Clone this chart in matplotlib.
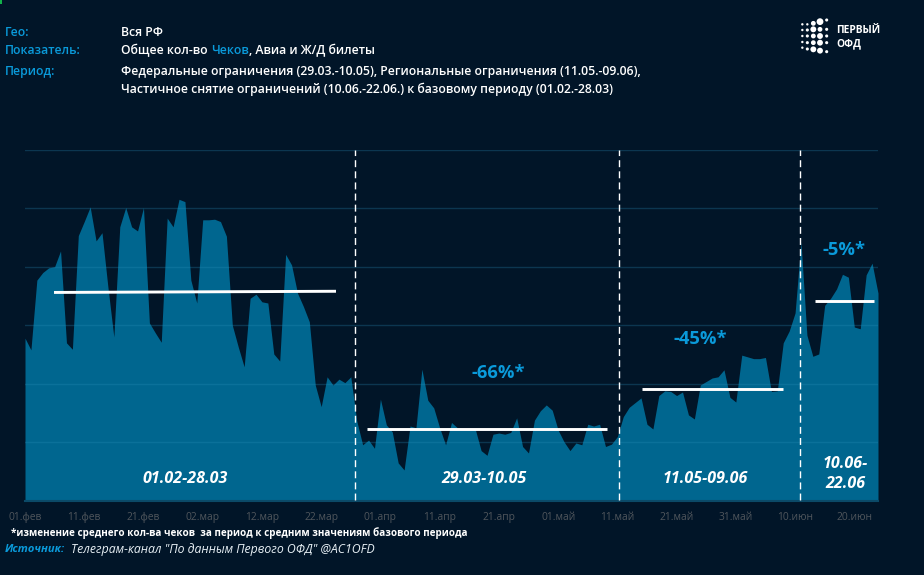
import matplotlib
matplotlib.use("Agg")
import matplotlib.pyplot as plt
import pandas as pd
from matplotlib.patches import Rectangle

W, H = 924, 575
BG = "#011528"
FILL = "#00668f"
BLUE = "#0a9ada"
TICK = "#50565c"
FONT = "Open Sans"

values = [278, 258, 377, 390, 398, 400, 427, 270, 259, 453,
          477, 502, 444, 458, 365, 280, 468, 501, 468, 461,
          501, 304, 287, 271, 483, 468, 515, 511, 377, 338,
          480, 480, 481, 477, 452, 300, 263, 229, 346, 353,
          340, 338, 251, 239, 421, 403, 355, 332, 306, 198,
          161, 212, 198, 208, 202, 212, 137, 96, 104, 90,
          174, 130, 118, 65, 53, 128, 125, 225, 172, 159,
          125, 96, 134, 125, 123, 123, 123, 86, 78, 114,
          116, 114, 117, 142, 93, 82, 138, 154, 164, 155,
          121, 101, 86, 99, 96, 131, 128, 131, 93, 97,
          110, 144, 160, 168, 176, 131, 123, 180, 188, 187,
          180, 186, 147, 140, 198, 204, 210, 212, 224, 177,
          169, 249, 246, 243, 243, 245, 187, 188, 270, 290,
          321, 442, 283, 247, 251, 334, 346, 362, 387, 382,
          297, 294, 386, 406, 355]
start_date = "2020-02-01"
tick_step_days = 10
month_names = {2: "фев", 3: "мар", 4: "апр", 5: "май", 6: "июн"}
grid_values = [100, 200, 300, 400, 500, 600]

period_names = ["01.02-28.03", "29.03-10.05", "11.05-09.06", "10.06-\n22.06"]
period_changes = ["", "-66%*", "-45%*", "-5%*"]
change_levels = [None, 219, 277, 429]
change_days = [None, 79.9, 114, 138.3]
name_days = [27, 77.5, 114.9, 138.5]
name_levels = [38, 38, 38, 46]
mean_start_days = [4.9, 57.7, 104.2, 133.3]
mean_end_days = [52.5, 98.3, 128, 143.4]
mean_start_vals = [356, 123, 192, 341]
mean_end_vals = [358, 123, 192, 341]
boundary_days = [55.72, 100.3, 130.9]

header_labels = ["Гео:", "Показатель:", "Период:"]
header_rows = ["Вся РФ", None,
               "Федеральные ограничения (29.03.-10.05), Региональные ограничения (11.05.-09.06),",
               "Частичное снятие ограничений (10.06.-22.06.) к базовому периоду (01.02.-28.03)"]
indicator_parts = [("Общее кол-во ", "white"), ("Чеков", BLUE), (", Авиа и Ж/Д билеты", "white")]
footnote = "*изменение среднего кол-ва чеков  за период к средним значениям базового периода"
source_label = "Источник:"
source_text = 'Телеграм-канал "По данным Первого ОФД" @AC1OFD'

logo_x = [67, 82, 100, 120, 140] * 5
logo_y = [73, 73, 70, 65, 60,
          90, 90, 88, 88, 88,
          108, 108, 108, 108, 108,
          126, 128, 128, 128, 128,
          143, 147, 148, 152, 155]
logo_s = [3, 3, 12, 24, 5,
          3, 5, 18, 12, 5,
          3, 5, 12, 18, 5,
          3, 5, 12, 18, 5,
          3, 5, 18, 18, 5]

fig = plt.figure(figsize=(W / 100, H / 100), dpi=100, facecolor=BG)


def fx(x):
    return x / W


def fy(y):
    return 1 - y / H


ax_left, ax_right, ax_top, ax_bottom = 25, 878, 149.5, 501
ax = fig.add_axes([fx(ax_left), fy(ax_bottom), (ax_right - ax_left) / W, (ax_bottom - ax_top) / H])
ax.set_facecolor(BG)
dates = pd.date_range(start_date, periods=len(values))
days = list(range(len(values)))
ax.set_xlim(0, len(values) - 1)
ax.set_ylim(0, 600)
ax.fill_between(days, 0, values, color=FILL, lw=0, zorder=2)
for g in grid_values:
    ax.axhline(g, color="#2a8fb8", alpha=0.28, lw=1, zorder=3)
ax.axhline(0, color="#0b4a68", lw=1.5, zorder=3, clip_on=False)

for b in boundary_days:
    ax.vlines(b, 1, 600, color="white", lw=1, linestyles=(0, (5, 3)), zorder=5)
for x0, x1, y0, y1 in zip(mean_start_days, mean_end_days, mean_start_vals, mean_end_vals):
    ax.plot([x0, x1], [y0, y1], color="white", lw=2.1, solid_capstyle="butt", zorder=6)
for d, lv, name in zip(name_days, name_levels, period_names):
    ax.text(d, lv, name, color="white", fontsize=11.5, fontweight="bold", fontstyle="italic",
            family=FONT, ha="center", va="center", linespacing=1.4, zorder=7)
for d, lv, t in zip(change_days, change_levels, period_changes):
    if t:
        ax.text(d, lv, t, color=BLUE, fontsize=13.2, fontweight="bold",
                family=FONT, ha="center", va="center", zorder=7)

ticks = days[::tick_step_days]
ax.set_xticks(ticks)
ax.set_xticklabels([f"{dates[i].day:02d}.{month_names[dates[i].month]}" for i in ticks],
                   color=TICK, fontsize=7.4, family=FONT)
ax.tick_params(axis="x", length=0, pad=8)
ax.set_yticks([])
for s in ax.spines.values():
    s.set_visible(False)

# header
HS = 8.85
for lab, y in zip(header_labels, [32, 51, 71]):
    fig.text(fx(5), fy(y), lab, color=BLUE, fontsize=HS, fontweight="semibold", family=FONT, va="center")
for row, y in zip(header_rows, [32, 51, 71, 89]):
    if row:
        fig.text(fx(121), fy(y), row, color="white", fontsize=HS, fontweight="semibold", family=FONT, va="center")
fig.canvas.draw()
r = fig.canvas.get_renderer()
cx = 121
for part, col in indicator_parts:
    t = fig.text(fx(cx), fy(51), part.replace(" ", "\u00a0"), color=col, fontsize=HS,
                 fontweight="semibold", family=FONT, va="center")
    cx = t.get_window_extent(r).x1 + 0.5

# footer
fig.text(fx(11), fy(533), footnote, color="white", fontsize=7.1, fontweight="bold", family=FONT, va="center")
fig.text(fx(5), fy(549), source_label, color=BLUE, fontsize=8, fontweight="bold", fontstyle="italic",
         family=FONT, va="center")
fig.text(fx(71), fy(549), source_text, color="#e8f0f5", fontsize=8.87, fontstyle="italic", family=FONT, va="center")

# logo
overlay = fig.add_axes([0, 0, 1, 1], facecolor="none")
overlay.set_xlim(0, W)
overlay.set_ylim(H, 0)
overlay.axis("off")
overlay.scatter([780 + x / 3 for x in logo_x], [y / 3 for y in logo_y], s=logo_s, color="white", lw=0)
overlay.text(836, 30.5, "ПЕРВЫЙ", color="white", fontsize=7.4, fontweight="bold", family=FONT, va="center")
overlay.text(836, 44, "ОФД", color="white", fontsize=7.4, fontweight="bold", family=FONT, va="center")
overlay.add_patch(Rectangle((0, 0), 1.5, 3.5, color="#12b24a", lw=0))

fig.savefig("out.png", dpi=100, facecolor=BG)
